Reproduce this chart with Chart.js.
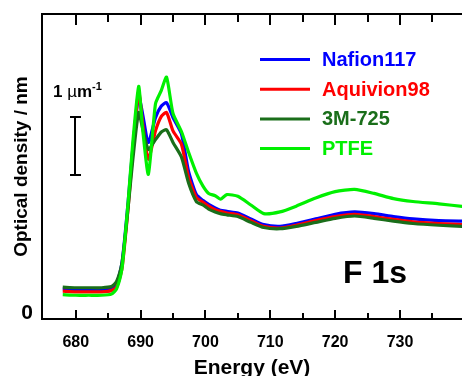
<!DOCTYPE html>
<html><head><meta charset="utf-8">
<script src="https://cdn.jsdelivr.net/npm/chart.js@4.4.0/dist/chart.umd.min.js"></script>
<style>html,body{margin:0;padding:0;background:#fff}</style>
</head><body>
<canvas id="c" width="462" height="376"></canvas>
<script>
const energy   = [678, 680, 682, 684, 685.5, 686.3, 687.1, 687.6, 688.1, 688.8, 689.7, 690.3, 691.2, 692.3, 693.2, 694.0, 695.0, 696.3, 697.4, 698.6, 699.6, 700.5, 701.5, 702.3, 703.3, 705.0, 707.0, 709.0, 711.5, 714.0, 717.0, 720.0, 723.0, 726.0, 729.0, 732.0, 736.0, 740.0];
const nafion117 = [0.42, 0.41, 0.41, 0.41, 0.43, 0.52, 0.85, 1.35, 1.95, 2.85, 3.76, 3.45, 2.95, 3.38, 3.58, 3.64, 3.38, 3.10, 2.45, 2.05, 1.95, 1.88, 1.82, 1.78, 1.76, 1.73, 1.63, 1.53, 1.50, 1.55, 1.63, 1.71, 1.75, 1.72, 1.67, 1.63, 1.60, 1.59];
const aquivion98 = [0.38, 0.37, 0.37, 0.37, 0.39, 0.45, 0.75, 1.25, 1.85, 2.80, 3.83, 3.30, 2.66, 3.15, 3.40, 3.47, 3.15, 2.92, 2.35, 2.00, 1.92, 1.85, 1.79, 1.76, 1.73, 1.70, 1.60, 1.50, 1.47, 1.52, 1.60, 1.67, 1.71, 1.67, 1.62, 1.58, 1.55, 1.53];
const m3_725 = [0.45, 0.44, 0.44, 0.44, 0.46, 0.55, 0.85, 1.30, 1.85, 2.65, 3.47, 3.20, 2.83, 3.00, 3.13, 3.17, 2.95, 2.70, 2.25, 1.93, 1.87, 1.80, 1.75, 1.72, 1.70, 1.67, 1.57, 1.48, 1.46, 1.50, 1.57, 1.64, 1.68, 1.64, 1.59, 1.55, 1.52, 1.50];
const ptfe = [0.32, 0.31, 0.31, 0.31, 0.33, 0.42, 0.75, 1.30, 1.95, 2.95, 3.92, 3.20, 2.40, 3.62, 3.85, 4.08, 3.45, 3.14, 2.78, 2.42, 2.20, 2.07, 2.03, 1.97, 2.05, 2.02, 1.87, 1.72, 1.75, 1.85, 1.99, 2.10, 2.14, 2.07, 1.98, 1.93, 1.89, 1.84];
const seriesNames = ['Nafion117', 'Aquivion98', '3M-725', 'PTFE'];
const seriesColors = ['#0000ff', '#ff0000', '#1a6e1a', '#00f000'];
const majorTicks = [680, 690, 700, 710, 720, 730];
const minorTicks = [685, 695, 705, 715, 725, 735];
const yTicks = [0];
const scaleBar = [2.39, 3.39];
const xMin = 674.8, xMax = 739.56;

const FONT = '"Liberation Sans", Arial, sans-serif';
const allSeries = [nafion117, aquivion98, m3_725, ptfe];

const datasets = allSeries.map((vals, i) => ({
  label: seriesNames[i],
  data: energy.map((e, k) => ({x: e, y: vals[k]})),
  borderColor: seriesColors[i],
  backgroundColor: seriesColors[i],
  borderWidth: 3.2,
  pointRadius: 0,
  tension: 0.2,
  fill: false,
  order: 4 - i
}));

const deco = {
  id: 'deco',
  afterDraw(chart) {
    const ctx = chart.ctx;
    const ys = chart.scales.y;
    ctx.save();
    ctx.fillStyle = '#000000';
    const y1 = Math.round(ys.getPixelForValue(scaleBar[0]));
    const y2 = Math.round(ys.getPixelForValue(scaleBar[1]));
    ctx.fillRect(74, y2, 2, y1 - y2);
    ctx.fillRect(70, y1 - 1, 11, 2);
    ctx.fillRect(70, y2 - 1, 11, 2);
    ctx.textBaseline = 'alphabetic';
    ctx.textAlign = 'left';
    ctx.font = 'bold 17px ' + FONT;
    ctx.fillText('1 ', 53, 97);
    let w = ctx.measureText('1 ').width;
    ctx.font = '17px ' + FONT;
    ctx.fillText('\u00b5', 53 + w, 97);
    w += ctx.measureText('\u00b5').width;
    ctx.font = 'bold 17px ' + FONT;
    ctx.fillText('m', 53 + w, 97);
    w += ctx.measureText('m').width;
    ctx.font = 'bold 11px ' + FONT;
    ctx.fillText('-1', 53 + w, 90);
    ctx.font = 'bold 32px ' + FONT;
    ctx.fillText('F 1s', 343, 283);
    ctx.font = 'bold 20px ' + FONT;
    ctx.textBaseline = 'middle';
    seriesNames.forEach((n, i) => {
      const y = 59.5 + i * 29.7;
      ctx.strokeStyle = seriesColors[i];
      ctx.lineWidth = 3;
      ctx.beginPath();
      ctx.moveTo(260, y); ctx.lineTo(310, y);
      ctx.stroke();
      ctx.fillStyle = seriesColors[i];
      ctx.fillText(n, 322, y + 1);
    });
    ctx.restore();
  }
};

// helper for the tick-only axes (inward tick marks drawn by Chart.js grid)
const tickAxis = (position, values, len, weight, border) => ({
  type: 'linear', position, weight, display: true,
  min: xMin, max: xMax,
  afterBuildTicks: s => { s.ticks = values.map(v => ({value: v})); },
  afterFit: s => { s.height = 0; s.paddingLeft = 0; s.paddingRight = 0; },
  grid: { display: true, drawOnChartArea: false, drawTicks: true, tickLength: -len, color: '#000', lineWidth: 2 },
  border: { display: border, color: '#000', width: 2 },
  ticks: { display: false }
});

new Chart(document.getElementById('c'), {
  type: 'line',
  data: { datasets },
  options: {
    responsive: false,
    animation: false,
    devicePixelRatio: 1,
    layout: { padding: { top: 14, right: 0, left: 0, bottom: 0 } },
    plugins: { legend: { display: false }, tooltip: { enabled: false } },
    scales: {
      x: {
        type: 'linear', position: 'bottom', weight: 0,
        min: xMin, max: xMax,
        afterBuildTicks: s => { s.ticks = majorTicks.map(v => ({value: v})); },
        afterFit: s => { s.height = 57; s.paddingLeft = 0; s.paddingRight = 0; },
        grid: { display: true, drawOnChartArea: false, drawTicks: true, tickLength: -9, color: '#000', lineWidth: 2 },
        border: { display: true, color: '#000', width: 2 },
        ticks: { color: '#000', font: { family: FONT, size: 16, weight: 'bold' }, padding: 23, maxRotation: 0, autoSkip: false },
        title: { display: true, text: 'Energy (eV)', color: '#000', font: { family: FONT, size: 21, weight: 'bold', lineHeight: 1 }, padding: { top: 0, bottom: -3 } }
      },
      xMinorBottom: tickAxis('bottom', minorTicks, 6, -1, false),
      xTop: tickAxis('top', majorTicks, 11, 0, true),
      xMinorTop: tickAxis('top', minorTicks, 8, -1, false),
      y: {
        type: 'linear',
        min: -0.1, max: 5.17,
        afterBuildTicks: s => { s.ticks = yTicks.map(v => ({value: v})); },
        afterFit: s => { s.width = 42; s.paddingTop = 0; s.paddingBottom = 0; },
        grid: { display: false, drawTicks: false },
        border: { display: true, color: '#000', width: 2 },
        ticks: { color: '#000', font: { family: FONT, size: 21, weight: 'bold' }, padding: 9 },
        title: { display: true, text: 'Optical density / nm', color: '#000', font: { family: FONT, size: 19, weight: 'bold', lineHeight: 1.2 }, padding: { top: 10, bottom: 0 } }
      }
    }
  },
  plugins: [deco]
});
</script>
</body></html>
